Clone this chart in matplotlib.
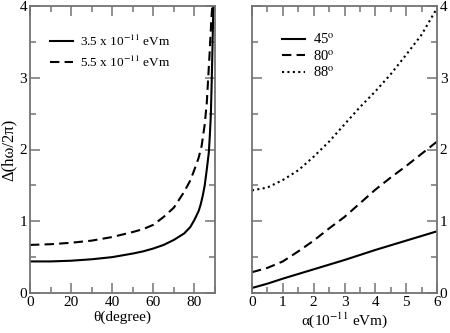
import matplotlib
matplotlib.use("Agg")
import matplotlib.pyplot as plt
from matplotlib.ticker import MultipleLocator

plt.rcParams['font.family'] = ['Liberation Serif', 'DejaVu Serif']
plt.rcParams['mathtext.fontset'] = 'stix'

# Left panel data
theta_a = [0, 10, 20, 30, 40, 50, 55, 60, 65, 70, 75, 78, 80, 82, 83, 84, 85, 86, 87, 87.5, 88, 88.4, 88.8, 89.2]
delta_a = [0.44, 0.44, 0.45, 0.47, 0.50, 0.55, 0.58, 0.62, 0.67, 0.74, 0.83, 0.92, 1.02, 1.14, 1.23, 1.35, 1.5, 1.72, 1.96, 2.2, 2.5, 2.95, 3.45, 4.0]
theta_b = [0, 10, 20, 30, 40, 50, 55, 60, 65, 70, 75, 78, 80, 82, 83.5, 85, 86, 86.7, 87.5, 88.2, 88.8]
delta_b = [0.67, 0.68, 0.70, 0.73, 0.78, 0.85, 0.89, 0.95, 1.06, 1.19, 1.41, 1.57, 1.72, 1.88, 2.05, 2.35, 2.65, 3.0, 3.4, 3.8, 4.05]
left_labels = ['3.5 x 10$^{-11}$ eVm', '5.5 x 10$^{-11}$ eVm']

# Right panel data
alpha = [0, 0.5, 1, 1.5, 2, 2.5, 3, 3.5, 4, 4.5, 5, 5.5, 6]
d45 = [0.07, 0.13, 0.20, 0.265, 0.33, 0.395, 0.46, 0.53, 0.60, 0.665, 0.73, 0.795, 0.86]
d80 = [0.29, 0.35, 0.44, 0.58, 0.73, 0.90, 1.06, 1.25, 1.44, 1.61, 1.77, 1.94, 2.11]
d88 = [1.43, 1.47, 1.575, 1.71, 1.90, 2.11, 2.35, 2.59, 2.81, 3.05, 3.32, 3.60, 3.97]
right_labels = ['45$^{\\mathrm{o}}$', '80$^{\\mathrm{o}}$', '88$^{\\mathrm{o}}$']

fig = plt.figure(figsize=(4.5, 3.33), dpi=100)
ax1 = fig.add_axes([30/450, 40/333, 185/450, 287/333])
ax2 = fig.add_axes([252/450, 40/333, 185/450, 287/333])

lw = 1.5
ax1.plot(theta_a, delta_a, color='black', lw=lw, label=left_labels[0])
ax1.plot(theta_b, delta_b, color='black', lw=lw, ls=(0, (4.5, 2.5)), label=left_labels[1])
ax1.set_xlim(0, 90)
ax1.set_ylim(0, 4)
ax1.xaxis.set_major_locator(MultipleLocator(20))
ax1.xaxis.set_minor_locator(MultipleLocator(10))
ax1.yaxis.set_major_locator(MultipleLocator(1))
ax1.yaxis.set_minor_locator(MultipleLocator(0.5))
ax1.set_xlabel('θ(degree)', fontsize=11, labelpad=1)
ax1.set_ylabel('Δ(hω/2π)', fontsize=12, labelpad=2)

ax2.plot(alpha, d45, color='black', lw=lw, label=right_labels[0])
ax2.plot(alpha, d80, color='black', lw=lw, ls=(0, (4.5, 2.5)), label=right_labels[1])
ax2.plot(alpha, d88, color='black', lw=lw, ls=(0, (1, 1.6)), label=right_labels[2])
ax2.set_xlim(0, 6)
ax2.set_ylim(0, 4)
ax2.xaxis.set_major_locator(MultipleLocator(1))
ax2.xaxis.set_minor_locator(MultipleLocator(0.5))
ax2.yaxis.set_major_locator(MultipleLocator(1))
ax2.yaxis.set_minor_locator(MultipleLocator(0.5))
ax2.set_xlabel('α(10$^{-11}$ eVm)', fontsize=11, labelpad=1)

for ax in (ax1, ax2):
    for s in ax.spines.values():
        s.set_color('0.45')
        s.set_linewidth(1.3)
    ax.tick_params(which='both', direction='in', top=True, right=True, color='0.45',
                   labelsize=11, width=1.1, pad=2)
    ax.tick_params(which='major', length=7)
    ax.tick_params(which='minor', length=4)

ax2.tick_params(axis='y', which='both', labelleft=False, labelright=True)

leg1 = ax1.legend(loc='upper left', bbox_to_anchor=(0.081, 0.922), frameon=False, fontsize=9.5,
                  handlelength=1.75, handletextpad=0.5, labelspacing=0.45, borderaxespad=0)
leg2 = ax2.legend(loc='upper left', bbox_to_anchor=(0.13, 0.93), frameon=False, fontsize=10.5,
                  handlelength=1.6, handletextpad=0.5, labelspacing=0.15, borderaxespad=0)

fig.savefig('out.png', dpi=100)
